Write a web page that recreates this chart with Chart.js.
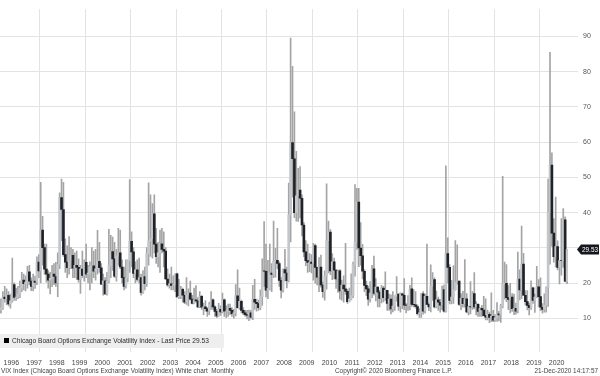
<!DOCTYPE html>
<html>
<head>
<meta charset="utf-8">
<script src="https://cdn.jsdelivr.net/npm/chart.js@4"></script>
<style>
  html, body { margin: 0; padding: 0; background: #fff; }
  #wrap { position: relative; width: 600px; height: 376px; }
</style>
</head>
<body>
<div id="wrap"><canvas id="vix-chart"></canvas></div>
<script>
// VIX monthly candles, Jan 1996 .. Dec 2020 (one row per year)
const years = ["1996","1997","1998","1999","2000","2001","2002","2003","2004","2005","2006","2007",
  "2008","2009","2010","2011","2012","2013","2014","2015","2016","2017","2018","2019","2020"];

const vixOpen = [
  12.5,13.0,16.1,15.6,16.6,14.1,15.0,19.6,16.0,16.1,16.9,18.6,
  20.9,19.9,20.3,23.2,20.6,19.1,20.6,20.2,26.0,23.5,35.1,30.1,
  24.0,22.6,20.9,21.4,22.6,21.9,20.1,25.3,44.3,40.9,28.1,26.0,
  24.4,26.3,27.9,24.3,25.1,24.5,21.1,24.0,22.2,25.9,22.6,22.9,
  24.6,24.9,23.4,24.1,26.2,24.4,19.7,20.7,17.0,20.6,25.0,29.0,
  26.9,22.0,27.7,28.6,24.6,21.6,19.1,21.5,26.4,31.9,28.9,22.8,
  23.8,21.1,21.6,17.4,21.9,19.9,28.4,32.0,32.6,39.7,31.1,27.5,
  28.6,31.2,29.6,29.1,21.2,19.5,19.8,19.4,19.6,22.7,16.1,16.3,
  18.3,16.6,14.6,16.7,17.2,15.5,14.3,15.3,15.0,13.3,16.3,13.2,
  13.3,12.8,12.1,14.0,15.3,13.3,12.0,10.7,12.6,11.9,15.3,12.1,
  12.1,12.9,12.3,11.4,11.6,16.4,13.1,14.9,12.3,11.6,11.1,10.9,
  11.6,10.4,15.4,14.6,14.2,13.1,16.2,23.5,23.4,18.0,18.5,22.9,
  22.5,26.2,26.5,25.6,20.8,18.0,23.9,22.9,20.7,39.4,59.9,55.3,
  40.0,44.8,46.4,44.1,36.5,28.9,26.4,25.9,26.0,25.6,30.7,24.5,
  21.7,24.6,19.5,17.6,22.1,32.1,34.5,23.5,26.1,23.7,21.2,23.5,
  17.8,19.5,18.4,17.7,14.8,15.5,16.5,25.3,31.6,43.0,30.0,27.8,
  23.4,19.4,18.4,15.5,17.2,24.1,17.1,18.9,17.5,15.7,18.6,15.9,
  18.0,14.3,15.5,12.7,13.5,16.3,16.9,13.5,17.0,16.6,13.8,13.7,
  13.7,18.4,14.0,13.9,13.4,11.4,11.6,17.0,12.1,16.3,14.0,13.3,
  19.2,21.0,13.3,15.3,14.6,13.8,18.2,12.1,28.4,24.5,15.1,16.1,
  18.2,20.2,20.6,14.0,15.7,14.2,15.6,11.9,13.4,13.3,17.1,13.3,
  14.0,12.0,12.9,12.4,10.8,10.4,11.2,10.3,10.6,9.5,10.2,11.3,
  11.0,13.5,19.9,20.0,15.9,15.4,16.1,12.8,12.9,12.1,21.2,18.1,
  25.4,16.6,14.8,13.7,13.1,18.7,15.1,16.1,19.0,16.2,13.2,12.6,
  13.8,18.8,40.1,53.5,34.2,27.5,30.4,24.5,26.4,26.37,38.0,20.6
];
const vixHigh = [
  15.6,17.6,19.1,18.4,17.6,16.9,27.1,20.1,18.6,19.1,20.6,23.1,
  22.6,22.1,24.8,25.1,21.5,22.6,22.0,27.5,28.1,48.6,39.0,31.1,
  31.1,23.6,23.1,25.1,25.6,25.9,28.6,45.6,49.5,48.6,32.6,30.6,
  33.2,30.1,29.6,28.6,29.1,26.9,25.1,29.1,26.6,31.1,25.1,26.1,
  30.1,29.1,29.6,35.0,31.6,25.6,22.6,21.6,23.1,35.3,33.6,33.1,
  31.6,29.6,35.6,35.1,26.6,24.6,26.6,26.6,49.4,34.6,30.1,26.1,
  26.6,27.1,22.6,23.6,24.6,30.1,48.5,45.1,42.6,45.1,35.6,31.6,
  35.1,35.6,34.6,30.1,24.1,22.6,24.6,22.1,22.6,22.9,21.1,19.1,
  18.6,17.6,21.6,18.4,20.6,16.6,18.6,19.3,15.9,17.6,16.6,14.4,
  15.1,13.1,14.6,17.6,15.6,13.6,12.6,14.3,13.6,17.2,15.6,13.6,
  14.1,14.1,13.1,12.6,19.6,23.8,18.6,15.2,13.1,12.3,12.3,12.4,
  12.3,19.4,21.1,15.5,15.2,18.1,26.9,37.5,31.1,26.5,31.1,25.6,
  37.6,29.9,35.6,26.1,21.6,24.1,29.6,24.6,48.4,89.5,81.5,68.6,
  57.4,52.6,53.1,45.1,37.2,32.1,31.1,28.4,28.1,31.3,31.1,24.6,
  27.3,28.0,20.3,23.5,48.2,37.6,35.2,28.4,27.1,23.8,23.7,23.9,
  20.9,22.1,31.3,18.3,18.6,22.7,26.0,48.0,46.9,46.9,37.2,31.0,
  23.9,20.6,19.2,20.5,25.1,27.7,21.3,19.0,18.0,19.4,19.1,23.2,
  18.0,16.9,16.7,17.6,16.4,21.9,17.0,17.3,17.2,21.3,14.2,16.5,
  19.4,21.5,18.2,17.6,13.9,12.8,17.1,17.6,16.9,31.1,14.4,25.2,
  23.0,21.5,17.8,16.1,15.4,19.2,19.5,53.3,32.9,25.3,20.8,25.0,
  32.1,30.9,20.6,17.1,17.7,26.7,17.1,13.5,20.5,17.6,23.0,14.8,
  14.2,13.1,13.7,16.3,15.6,12.4,11.8,17.3,12.3,11.1,14.5,12.0,
  14.0,50.3,26.0,25.3,19.3,20.0,17.1,16.9,14.4,28.8,23.8,36.2,
  28.5,17.9,17.9,14.4,20.7,18.9,16.9,24.8,21.0,21.5,14.2,17.0,
  19.0,49.5,85.5,57.0,38.3,44.4,32.0,26.5,38.3,41.2,38.8,29.6
];
const vixLow = [
  11.5,12.6,14.6,13.9,13.6,12.9,14.6,15.1,15.1,15.6,15.9,17.6,
  18.1,17.8,18.6,19.6,17.9,17.8,18.5,19.6,21.6,20.1,25.1,22.5,
  20.3,18.6,17.0,19.0,19.6,19.1,16.2,24.1,32.1,27.6,23.1,21.6,
  22.6,24.1,21.6,21.6,21.1,20.3,17.1,21.6,20.6,21.6,20.1,18.1,
  20.1,21.6,20.9,22.6,23.1,19.6,16.6,16.8,16.6,20.1,21.6,23.6,
  21.6,20.6,25.1,24.1,20.1,18.1,18.6,20.4,23.1,24.6,21.6,20.1,
  20.6,20.1,16.6,17.1,18.1,19.1,25.1,27.6,27.1,28.6,25.6,24.6,
  23.1,28.6,24.6,21.1,19.1,18.6,18.1,18.1,17.6,16.1,15.6,15.6,
  14.6,14.2,14.0,13.6,15.3,14.1,14.1,14.6,13.1,13.1,12.6,11.1,
  12.1,10.6,11.1,12.6,12.6,10.6,10.2,10.6,10.9,11.6,10.6,10.2,
  10.6,11.1,10.6,10.1,10.7,12.9,12.6,11.6,11.1,10.6,9.9,9.4,
  9.9,9.7,12.6,12.1,12.3,12.5,13.7,19.1,16.1,15.6,18.1,17.6,
  21.6,21.7,24.1,19.1,15.8,17.5,20.6,18.7,20.4,31.7,44.4,38.6,
  37.6,37.5,38.5,33.4,27.5,25.0,23.1,23.3,22.9,20.9,20.0,19.5,
  17.6,18.9,16.0,15.2,18.3,22.9,22.4,21.0,21.2,18.5,17.4,15.5,
  15.2,14.6,16.8,14.3,14.7,15.3,15.9,22.0,29.6,24.7,25.1,21.2,
  17.6,16.5,13.7,14.6,15.9,16.6,15.0,13.3,13.3,14.4,14.7,15.1,
  12.3,12.3,11.3,11.9,12.3,14.9,12.3,11.8,12.8,12.5,11.6,12.3,
  12.4,13.4,13.3,12.9,11.0,10.3,10.3,11.2,11.5,13.9,12.2,11.9,
  15.1,13.0,13.0,12.3,11.8,12.5,11.8,11.8,20.1,14.1,14.1,14.3,
  18.0,19.7,13.7,12.5,13.2,13.2,11.6,11.0,11.3,12.6,12.7,11.0,
  10.6,10.6,10.6,10.7,9.6,9.6,8.8,9.1,9.1,9.2,9.2,9.3,
  8.9,13.0,15.5,14.8,12.5,11.6,12.0,11.1,11.2,11.6,15.3,15.6,
  16.5,13.8,12.4,11.0,12.6,14.3,11.7,15.9,13.3,12.2,11.5,11.8,
  11.8,13.4,25.4,30.5,26.0,24.6,23.8,19.8,22.3,24.5,20.4,19.9
];
const vixClose = [
  13.0,16.1,15.6,16.6,14.1,15.0,19.6,16.0,16.1,16.9,18.6,20.9,
  19.9,20.3,23.2,20.6,19.1,20.6,20.2,26.0,23.5,35.1,30.1,24.0,
  22.6,20.9,21.4,22.6,21.9,20.1,25.3,44.3,40.9,28.1,26.0,24.4,
  26.3,27.9,24.3,25.1,24.5,21.1,24.0,22.2,25.9,22.6,22.9,24.6,
  24.9,23.4,24.1,26.2,24.4,19.7,20.7,17.0,20.6,25.0,29.0,26.9,
  22.0,27.7,28.6,24.6,21.6,19.1,21.5,26.4,31.9,28.9,22.8,23.8,
  21.1,21.6,17.4,21.9,19.9,28.4,32.0,32.6,39.7,31.1,27.5,28.6,
  31.2,29.6,29.1,21.2,19.5,19.8,19.4,19.6,22.7,16.1,16.3,18.3,
  16.6,14.6,16.7,17.2,15.5,14.3,15.3,15.0,13.3,16.3,13.2,13.3,
  12.8,12.1,14.0,15.3,13.3,12.0,10.7,12.6,11.9,15.3,12.1,12.1,
  12.9,12.3,11.4,11.6,16.4,13.1,14.9,12.3,11.6,11.1,10.9,11.6,
  10.4,15.4,14.6,14.2,13.1,16.2,23.5,23.4,18.0,18.5,22.9,22.5,
  26.2,26.5,25.6,20.8,18.0,23.9,22.9,20.7,39.4,59.9,55.3,40.0,
  44.8,46.4,44.1,36.5,28.9,26.4,25.9,26.0,25.6,30.7,24.5,21.7,
  24.6,19.5,17.6,22.1,32.1,34.5,23.5,26.1,23.7,21.2,23.5,17.8,
  19.5,18.4,17.7,14.8,15.5,16.5,25.3,31.6,43.0,30.0,27.8,23.4,
  19.4,18.4,15.5,17.2,24.1,17.1,18.9,17.5,15.7,18.6,15.9,18.0,
  14.3,15.5,12.7,13.5,16.3,16.9,13.5,17.0,16.6,13.8,13.7,13.7,
  18.4,14.0,13.9,13.4,11.4,11.6,17.0,12.1,16.3,14.0,13.3,19.2,
  21.0,13.3,15.3,14.6,13.8,18.2,12.1,28.4,24.5,15.1,16.1,18.2,
  20.2,20.6,14.0,15.7,14.2,15.6,11.9,13.4,13.3,17.1,13.3,14.0,
  12.0,12.9,12.4,10.8,10.4,11.2,10.3,10.6,9.5,10.2,11.3,11.0,
  13.5,19.9,20.0,15.9,15.4,16.1,12.8,12.9,12.1,21.2,18.1,25.4,
  16.6,14.8,13.7,13.1,18.7,15.1,16.1,19.0,16.2,13.2,12.6,13.8,
  18.8,40.1,53.5,34.2,27.5,30.4,24.5,26.4,26.37,38.0,20.6,29.53
];

const lastPrice = 29.53;
const yTicks = [10, 20, 30, 40, 50, 60, 70, 80, 90];

const FONT = '"Liberation Sans", Arial, sans-serif';
const UP_COL = "#c3c7cc";
const DOWN_COL = "#1f2328";
const WICK_COL = "#a4a4a4";
const GRID_COL = "#e3e3e3";

const bodies = vixOpen.map((o, i) => ({ x: i + 0.5, y: [Math.min(o, vixClose[i]), Math.max(o, vixClose[i])] }));
const wicks = vixHigh.map((h, i) => ({ x: i + 0.5, y: [vixLow[i], h] }));
const bodyColors = vixOpen.map((o, i) => vixClose[i] >= o ? UP_COL : DOWN_COL);

const overlay = {
  id: "overlay",
  afterDraw(chart) {
    const ctx = chart.ctx;
    const area = chart.chartArea;
    const yScale = chart.scales.y;
    ctx.save();

    // legend box
    ctx.fillStyle = "#eeeeee";
    ctx.fillRect(0, 334, 224, 14);
    ctx.fillStyle = "#000";
    ctx.fillRect(4, 338, 5, 5);
    ctx.font = "6.6px " + FONT;
    ctx.fillStyle = "#2a2a2a";
    ctx.textBaseline = "middle";
    ctx.textAlign = "left";
    ctx.fillText("Chicago Board Options Exchange Volatility Index - Last Price " + lastPrice.toFixed(2), 12, 341.5);

    // footer
    ctx.font = "6.4px " + FONT;
    ctx.fillStyle = "#444";
    ctx.fillText("VIX Index (Chicago Board Options Exchange Volatility Index) White chart  Monthly", 1, 371.5);
    ctx.fillText("Copyright\u00a9 2020 Bloomberg Finance L.P.", 335, 371.5);
    ctx.textAlign = "right";
    ctx.fillText("21-Dec-2020 14:17:57", 598, 371.5);

    // last price tag
    const ty = yScale.getPixelForValue(lastPrice);
    const tx = area.right + 9;
    ctx.fillStyle = "#15171c";
    ctx.beginPath();
    ctx.moveTo(tx, ty);
    ctx.lineTo(tx + 4, ty - 5);
    ctx.lineTo(599, ty - 5);
    ctx.lineTo(599, ty + 5);
    ctx.lineTo(tx + 4, ty + 5);
    ctx.closePath();
    ctx.fill();
    ctx.fillStyle = "#fff";
    ctx.font = "6.4px " + FONT;
    ctx.textAlign = "center";
    ctx.fillText(lastPrice.toFixed(2), (tx + 4 + 599) / 2, ty + 0.5);
    ctx.restore();
  }
};

new Chart(document.getElementById("vix-chart"), {
  type: "bar",
  data: {
    datasets: [
      {
        label: "body",
        data: bodies,
        backgroundColor: bodyColors,
        barThickness: 2,
        borderWidth: 0,
        grouped: false,
        order: 0
      },
      {
        label: "wick",
        data: wicks,
        backgroundColor: WICK_COL,
        barThickness: 1,
        borderWidth: 0,
        grouped: false,
        order: 1
      }
    ]
  },
  options: {
    responsive: true,
    maintainAspectRatio: false,
    animation: false,
    layout: { padding: 0 },
    plugins: { legend: { display: false }, tooltip: { enabled: false } },
    scales: {
      x: {
        type: "linear",
        min: 0,
        max: years.length * 12,
        offset: false,
        border: { display: false },
        afterFit: (s) => { s.height = 24; s.paddingLeft = 0; s.paddingRight = 0; },
        grid: {
          drawTicks: false,
          color: (c) => (c.tick && c.tick.value > 0 && c.tick.value % 24 === 0) ? GRID_COL : "rgba(0,0,0,0)"
        },
        ticks: {
          stepSize: 6,
          autoSkip: false,
          maxTicksLimit: 200,
          maxRotation: 0,
          padding: 7,
          color: "#444",
          font: { family: FONT, size: 7 },
          callback: (v) => (v % 12 === 6) ? years[(v - 6) / 12] : ""
        }
      },
      y: {
        position: "right",
        min: 0.5,
        max: 97.7,
        border: { display: false },
        afterFit: (s) => { s.width = 32; },
        afterBuildTicks: (s) => { s.ticks = yTicks.map((v) => ({ value: v })); },
        grid: { color: GRID_COL, tickLength: 10 },
        ticks: {
          padding: 5,
          color: "#555",
          font: { family: FONT, size: 7 }
        }
      }
    }
  },
  plugins: [overlay]
});
</script>
</body>
</html>
